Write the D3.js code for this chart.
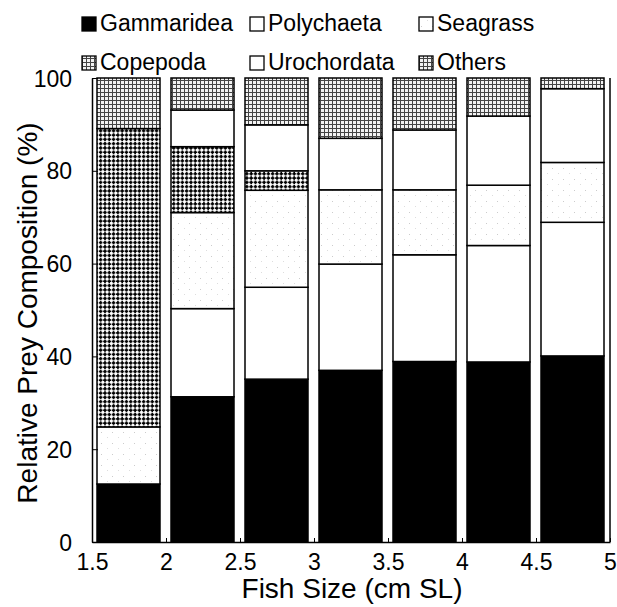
<!DOCTYPE html>
<html>
<head>
<meta charset="utf-8">
<script src="https://cdn.jsdelivr.net/npm/d3@7"></script>
<style>
  body { margin: 0; background: #fff; }
  text { font-family: "Liberation Sans", Arial, sans-serif; fill: #000; }
</style>
</head>
<body>
<div id="chart"></div>
<script>
// fish size classes (left edge of each bar, cm SL)
const sizeClasses = [1.5, 2, 2.5, 3, 3.5, 4, 4.5];
const xTicks = [1.5, 2, 2.5, 3, 3.5, 4, 4.5, 5];
const yTicks = [0, 20, 40, 60, 80, 100];
const preyNames = ["Gammaridea", "Polychaeta", "Seagrass", "Copepoda", "Urochordata", "Others"];

// % composition per size class
const gammaridea  = [12.5, 31.3, 35.1, 37.0, 38.9, 38.8, 40.1];
const polychaeta  = [0, 19.0, 19.8, 22.9, 23.0, 25.1, 28.8];
const seagrass    = [12.3, 20.7, 20.9, 16.0, 14.0, 13.0, 12.9];
const copepoda    = [64.3, 14.2, 4.2, 0, 0, 0, 0];
const urochordata = [0, 7.9, 9.9, 11.1, 12.9, 14.9, 15.9];
const others      = [10.9, 6.9, 10.1, 13.0, 11.2, 8.2, 2.3];

const W = 617, H = 607;
const mLeft = 92, mRight = 610, mTop = 78, mBottom = 542;

const svg = d3.select("#chart").append("svg")
    .attr("width", W)
    .attr("height", H);

// fill patterns
const defs = svg.append("defs");
const pCope = defs.append("pattern").attr("id", "cope")
    .attr("width", 4.3).attr("height", 4.3).attr("patternUnits", "userSpaceOnUse");
pCope.append("rect").attr("width", 4.3).attr("height", 4.3).attr("fill", "#fff");
pCope.append("rect").attr("x", 1).attr("y", 0).attr("width", 1.6).attr("height", 3.6).attr("fill", "#000");
pCope.append("rect").attr("x", 0).attr("y", 1).attr("width", 3.6).attr("height", 1.6).attr("fill", "#000");

const pOth = defs.append("pattern").attr("id", "oth")
    .attr("width", 4).attr("height", 4).attr("patternUnits", "userSpaceOnUse");
pOth.append("rect").attr("width", 4).attr("height", 4).attr("fill", "#f2f2f2");
pOth.append("rect").attr("x", 0).attr("y", 0).attr("width", 4).attr("height", 1).attr("fill", "#444");
pOth.append("rect").attr("x", 0).attr("y", 0).attr("width", 1).attr("height", 4).attr("fill", "#444");

const pSea = defs.append("pattern").attr("id", "sea")
    .attr("width", 11).attr("height", 11).attr("patternUnits", "userSpaceOnUse");
pSea.append("rect").attr("width", 11).attr("height", 11).attr("fill", "#fff");
pSea.append("rect").attr("x", 2).attr("y", 3).attr("width", 1).attr("height", 1).attr("fill", "#ccc");
pSea.append("rect").attr("x", 8).attr("y", 8).attr("width", 1).attr("height", 1).attr("fill", "#ddd");

const fills = {
    Gammaridea: "#000",
    Polychaeta: "#fff",
    Seagrass: "url(#sea)",
    Copepoda: "url(#cope)",
    Urochordata: "#fff",
    Others: "url(#oth)"
};

const x = d3.scaleLinear().domain([1.5, 5]).range([mLeft, mRight]);
const y = d3.scaleLinear().domain([0, 100]).range([mBottom, mTop]);

const table = sizeClasses.map((s, i) => ({
    size: s,
    Gammaridea: gammaridea[i],
    Polychaeta: polychaeta[i],
    Seagrass: seagrass[i],
    Copepoda: copepoda[i],
    Urochordata: urochordata[i],
    Others: others[i]
}));

const series = d3.stack().keys(preyNames)(table);

svg.append("g")
    .selectAll("g")
    .data(series)
    .join("g")
    .attr("fill", d => fills[d.key])
    .selectAll("rect")
    .data(d => d.filter(p => p[1] - p[0] > 0))
    .join("rect")
    .attr("x", d => x(d.data.size) + 5)
    .attr("width", d => x(d.data.size + 0.5) - x(d.data.size) - 11)
    .attr("y", d => y(d[1]))
    .attr("height", d => y(d[0]) - y(d[1]))
    .attr("stroke", "#000")
    .attr("stroke-width", 1.5);

// y axis (ticks point inward)
const yAxis = svg.append("g")
    .attr("transform", "translate(" + mLeft + ",0)")
    .call(d3.axisLeft(y).tickValues(yTicks).tickSizeInner(-6).tickSizeOuter(0).tickPadding(20));
yAxis.select(".domain").attr("stroke-width", 1.5);
yAxis.selectAll("text").style("font-size", "23px").attr("dy", "0.35em");

// x axis (ticks point up)
const xAxis = svg.append("g")
    .attr("transform", "translate(0," + mBottom + ")")
    .call(d3.axisBottom(x).tickValues(xTicks).tickFormat(d3.format("")).tickSizeInner(-4).tickSizeOuter(0).tickPadding(12));
xAxis.select(".domain").attr("stroke-width", 1.5);
xAxis.selectAll("text").style("font-size", "23px");

// right frame line
svg.append("line")
    .attr("x1", mRight).attr("x2", mRight)
    .attr("y1", mTop).attr("y2", mBottom)
    .attr("stroke", "#000").attr("stroke-width", 1.5);

// axis titles
svg.append("text")
    .attr("x", 352)
    .attr("y", 598)
    .attr("text-anchor", "middle")
    .style("font-size", "28px")
    .text("Fish Size (cm SL)");

svg.append("text")
    .attr("transform", "translate(37,313) rotate(-90)")
    .attr("text-anchor", "middle")
    .style("font-size", "28px")
    .text("Relative Prey Composition (%)");

// legend
const legendPos = [
    {name: "Gammaridea", x: 82, y: 23},
    {name: "Polychaeta", x: 250, y: 23},
    {name: "Seagrass", x: 419, y: 23},
    {name: "Copepoda", x: 82, y: 62},
    {name: "Urochordata", x: 250, y: 62},
    {name: "Others", x: 419, y: 62}
];
const legend = svg.append("g")
    .selectAll("g")
    .data(legendPos)
    .join("g")
    .attr("transform", d => "translate(" + d.x + "," + d.y + ")");
legend.append("rect")
    .attr("x", 0).attr("y", -6)
    .attr("width", 14).attr("height", 14)
    .attr("fill", d => fills[d.name] === "url(#cope)" ? "url(#oth)" : fills[d.name])
    .attr("stroke", "#000").attr("stroke-width", 1.3);
legend.append("text")
    .attr("x", 18)
    .attr("dy", "0.35em")
    .style("font-size", "23px")
    .text(d => d.name);
</script>
</body>
</html>
